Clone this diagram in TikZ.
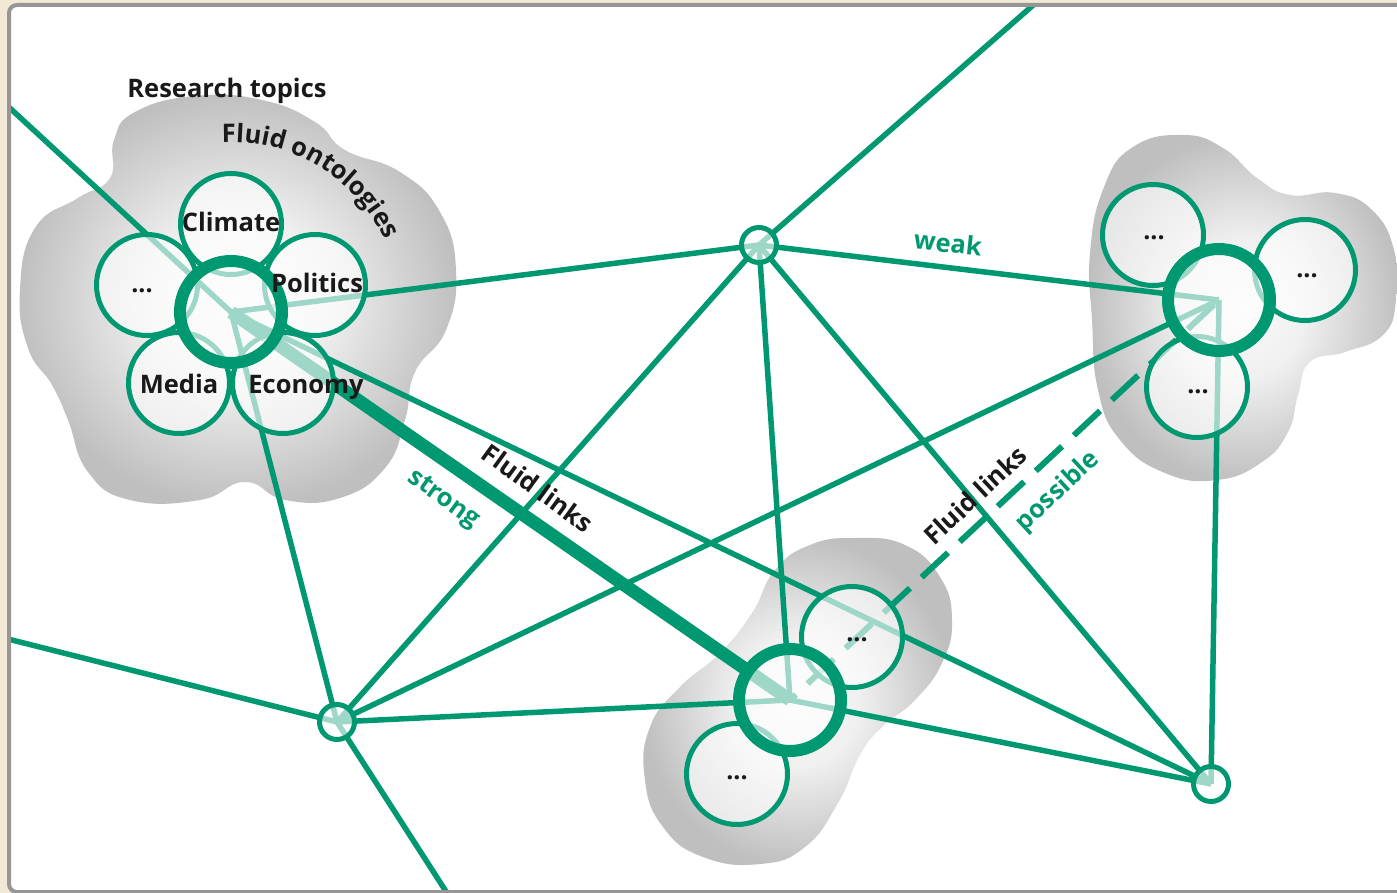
\documentclass[tikz,border=0pt]{standalone}
\usepackage{fontspec}
\setmainfont{Open Sans}
\usetikzlibrary{decorations.text}
\definecolor{grn}{RGB}{0,152,112}
\definecolor{beige}{RGB}{242,232,213}
\definecolor{framegray}{RGB}{150,150,150}
\definecolor{ink}{RGB}{25,25,25}
\pgfdeclarelayer{bg}
\pgfdeclarelayer{lines}
\pgfsetlayers{bg,lines,main}
\pgfdeclareradialshading{blobsh}{\pgfpoint{0bp}{0bp}}{color(0bp)=(black!2); color(10bp)=(black!6); color(25bp)=(black!25); color(50bp)=(black!25)}
\begin{document}
\begin{tikzpicture}[x=1pt,y=-1pt,
  link/.style={draw=grn,line width=5.5pt},
  strongl/.style={draw=grn,line width=13pt},
  possl/.style={draw=grn,line width=6pt,dash pattern=on 36pt off 16pt,dash phase=28pt},
  hub/.style={circle,draw=grn,line width=12pt,fill=white,fill opacity=0.62,minimum size=102pt,inner sep=0pt},
  petal/.style={circle,draw=grn,line width=5pt,fill=white,fill opacity=0.62,minimum size=101pt,inner sep=0pt},
  junc/.style={circle,draw=grn,line width=5pt,fill=white,fill opacity=0.62,minimum size=35pt,inner sep=0pt},
  lbl/.style={font=\bfseries\fontsize{25.5}{26}\selectfont,text=ink,inner sep=0pt},
  glbl/.style={lbl,text=grn},
  dots/.style={lbl,font=\bfseries\fontsize{25}{25}\selectfont}
]
\useasboundingbox (0,0) rectangle (1397,893);

\begin{pgfonlayer}{bg}
\fill[beige] (0,0) rectangle (1397,893);
\fill[white,rounded corners=8pt] (9,5) rectangle (1420,892);
\shade[shading=blobsh] plot[smooth cycle,tension=0.8] coordinates {(135,112) (195,96) (262,100) (315,122) (345,150) (400,172) (440,212) (456,270) (446,330) (415,372) (405,420) (385,468) (340,498) (285,500) (245,482) (200,500) (130,500) (88,472) (68,420) (52,385) (28,348) (20,290) (35,228) (78,198) (110,178) (114,140)};
\shade[shading=blobsh] plot[smooth cycle,tension=0.8] coordinates {(1090,253) (1104,187) (1133,147) (1183,135) (1223,148) (1257,178) (1290,195) (1335,193) (1372,210) (1394,250) (1396,300) (1383,335) (1345,352) (1310,362) (1298,395) (1288,432) (1262,462) (1217,480) (1165,473) (1120,440) (1098,390) (1092,320)};
\shade[shading=blobsh] plot[smooth cycle,tension=0.8] coordinates {(810,545) (855,538) (905,545) (940,577) (952,620) (942,663) (915,700) (882,727) (860,755) (838,803) (805,847) (760,864) (703,857) (663,827) (645,780) (650,727) (680,687) (720,653) (752,613) (775,570)};
\end{pgfonlayer}

% cluster A
\node[petal] (a1) at (231,224) {};
\node[petal] (a2) at (315,285) {};
\node[petal] (a3) at (283,383) {};
\node[petal] (a4) at (179,383) {};
\node[petal] (a5) at (147,285) {};
\node[hub] (hA) at (231,312) {};
% cluster B
\node[petal] (b1) at (1153,235) {};
\node[petal] (b2) at (1305,270) {};
\node[petal] (b3) at (1197,387) {};
\node[hub] (hB) at (1219,300) {};
% cluster C
\node[petal] (c1) at (852,637) {};
\node[petal] (c2) at (737,774) {};
\node[hub] (hC) at (790,700) {};
% junctions
\node[junc] (n1) at (759,245) {};
\node[junc] (n2) at (337,722) {};
\node[junc] (n3) at (1211,784) {};
% free ends
\coordinate (eTL) at (0,99);
\coordinate (eTop) at (1039,0);
\coordinate (eLeft) at (0,637);
\coordinate (eBot) at (447,893);

\begin{pgfonlayer}{lines}
\begin{scope}
\clip (11,7) rectangle (1397,889);
\draw[link] (eTL) -- (hA.center);
\draw[link] (hA.center) -- (n1.center);
\draw[link] (hA.center) -- (n2.center);
\draw[link] (hA.center) -- (n3.center);
\draw[link] (eTop) -- (n1.center);
\draw[link] (n1.center) -- (hB.center);
\draw[link] (n1.center) -- (n2.center);
\draw[link] (n1.center) -- (hC.center);
\draw[link] (n1.center) -- (n3.center);
\draw[link] (eLeft) -- (n2.center);
\draw[link] (n2.center) -- (eBot);
\draw[link] (n2.center) -- (hB.center);
\draw[link] (n2.center) -- (hC.center);
\draw[link] (hC.center) -- (n3.center);
\draw[link] (hB.center) -- (n3.center);
\draw[possl] (hC.center) -- (hB.center);
\draw[strongl] (hA.center) -- (hC.center);
\end{scope}
\end{pgfonlayer}

% labels
\node[lbl,anchor=base] (tRT) at (227,98) {Research topics};
\path[decorate,decoration={text along path,text format delimiters={|}{|},text={|\bfseries\fontsize{25.5}{26}\selectfont|Fluid ontologies},text color=ink,text align=center}] (hA.center) ++(-98:170) arc[start angle=-98,end angle=-20,radius=170];
\node[lbl,anchor=base] (tCl) at (231,232) {Climate};
\node[lbl,anchor=base] (tPo) at (317,292) {Politics};
\node[lbl,anchor=base] (tMe) at (179,393) {Media};
\node[lbl,anchor=base] (tEc) at (306,393) {Economy};
\node[dots,anchor=base] (tA5) at (142,293) {...};
\node[dots,anchor=base] (tB1) at (1154,240) {...};
\node[dots,anchor=base] (tB2) at (1307,277) {...};
\node[dots,anchor=base] (tB3) at (1198,393) {...};
\node[dots,anchor=base] (tC1) at (857,641) {...};
\node[dots,anchor=base] (tC2) at (737,779) {...};
\node[lbl,rotate=-36] (tFL1) at (538,488) {Fluid links};
\node[glbl,rotate=-36] (tSt) at (443,500) {strong};
\node[lbl,rotate=43] (tFL2) at (975,495) {Fluid links};
\node[glbl,rotate=43] (tPos) at (1058,492) {possible};
\node[glbl,rotate=-6] (tWk) at (948,243) {weak};

\draw[framegray,line width=4pt,rounded corners=8pt] (9,5) rectangle (1420,892);
\end{tikzpicture}
\end{document}
